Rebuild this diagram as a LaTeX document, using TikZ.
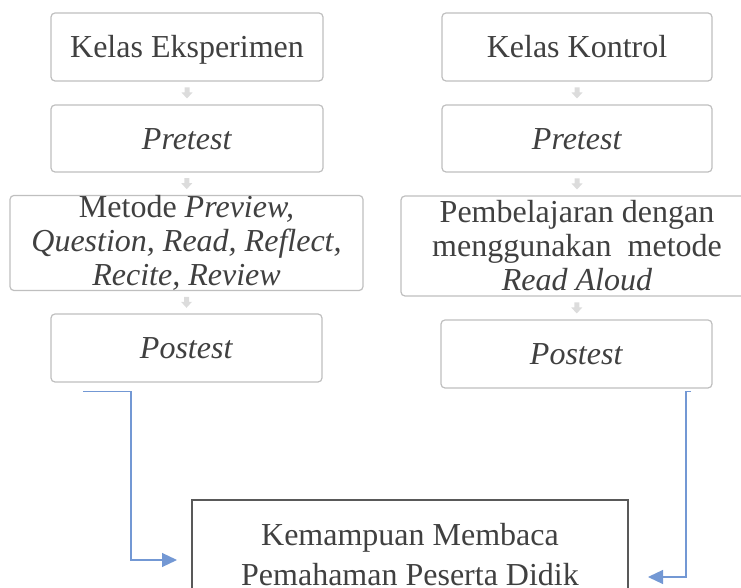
\documentclass[tikz,border=0pt]{standalone}
\usepackage{fontspec}
\setmainfont{Liberation Serif}
\usepackage{tikz}
\usetikzlibrary{arrows.meta,calc}

\definecolor{teks}{HTML}{404040}
\definecolor{garis}{HTML}{BFBFBF}
\definecolor{abu}{HTML}{DCDCDC}
\definecolor{biru}{HTML}{7398D4}
\definecolor{gelap}{HTML}{595959}

\tikzset{
	kotak/.style={draw=garis, line width=0.6pt, rounded corners=2pt, fill=white, text=teks, align=center, inner sep=0pt, font=\fontsize{16}{17}\selectfont},
	satu/.style={kotak, text height=14pt, text depth=3pt},
	hasil/.style={draw=gelap, line width=1pt, fill=white, text=teks, align=center, inner sep=0pt, font=\fontsize{16}{20}\selectfont},
	alur/.style={draw=biru, line width=0.6pt, -{Triangle[length=7.5pt,width=7pt]}}
}

\begin{document}
\begin{tikzpicture}[x=0.5pt,y=-0.5pt]
		\useasboundingbox (0,0) rectangle (741,588);
		\clip (0,0) rectangle (741,588);
		
		% Kelas eksperimen
		\node[satu, minimum width=136pt, minimum height=34pt] (eks) at (187,47) {Kelas Eksperimen};
		\node[satu, minimum width=136pt, minimum height=33.5pt] (pre1) at (187,138.5) {\textit{Pretest}};
		\node[kotak, minimum width=176.5pt, minimum height=47pt] (met) at (186.5,243) {Metode \textit{Preview,}\\ \textit{Question, Read, Reflect,}\\ \textit{Recite, Review}};
		\node[satu, minimum width=135.5pt, minimum height=34pt] (post1) at (186.5,348) {\textit{Postest}};
		
		% Kelas kontrol
		\node[satu, minimum width=135pt, minimum height=34pt] (kon) at (577,47) {Kelas Kontrol};
		\node[satu, minimum width=135pt, minimum height=33.5pt] (pre2) at (577,138.5) {\textit{Pretest}};
		\node[kotak, minimum width=176pt, minimum height=50pt] (pemb) at (577,246) {Pembelajaran dengan\\ menggunakan \ metode\\ \textit{Read Aloud}};
		\node[satu, minimum width=135.5pt, minimum height=34pt] (post2) at (576.5,354) {\textit{Postest}};
		
		% Hasil
		\node[hasil, minimum width=218pt, minimum height=55pt] (ukur) at (410,555) {Kemampuan Membaca\\ Pemahaman Peserta Didik};
		
		% Panah kecil
		\foreach \a/\b in {eks/pre1, pre1/met, met/post1, kon/pre2, pre2/pemb, pemb/post2}
			\fill[abu] ($(\a.south)!0.5!(\b.north)$) ++(-2.5,-5.5) -- ++(5,0) -- ++(0,5) -- ++(3,0) -- ++(-5.5,6) -- ++(-5.5,-6) -- ++(3,0) -- cycle;
		
		% Alur ke hasil
		\draw[alur] ([shift={(-103.5,9)}]post1.south) -- ++(48,0) |- ([shift={(-14,5)}]ukur.west);
		\draw[alur] ([shift={(114.5,3)}]post2.south) -- ++(-5,0) |- ([shift={(19,22)}]ukur.east);
	\end{tikzpicture}
\end{document}
